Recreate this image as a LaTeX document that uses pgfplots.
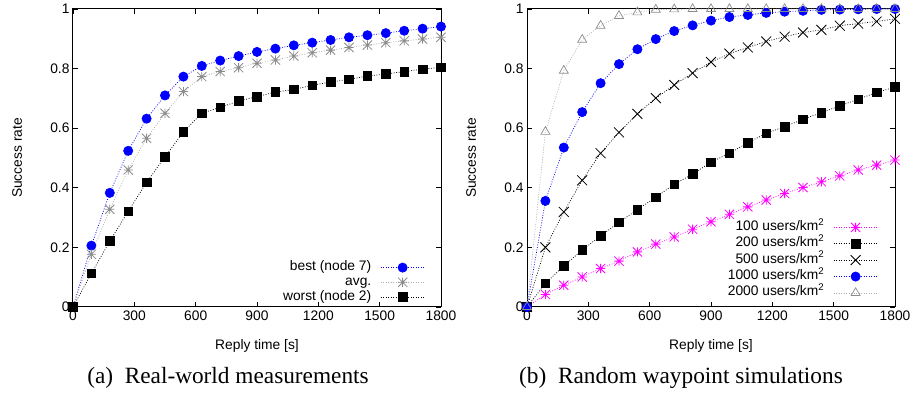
\documentclass[border=0pt]{standalone}
\usepackage{fontspec}
\setmainfont{Liberation Serif}
\newfontfamily\capfont{Liberation Serif}
\newfontfamily\axfont{Liberation Sans}
\newcommand\axsize{\axfont\fontsize{13.8}{15}\selectfont}
\usepackage{pgfplots}
\pgfplotsset{compat=1.18}
\definecolor{gpgray}{RGB}{140,140,140}
\definecolor{gplight}{RGB}{175,175,175}
\definecolor{gpmag}{RGB}{255,0,255}
\pgfdeclareplotmark{gpstar}{%
  \pgfpathmoveto{\pgfqpoint{-\pgfplotmarksize}{0pt}}\pgfpathlineto{\pgfqpoint{\pgfplotmarksize}{0pt}}%
  \pgfpathmoveto{\pgfqpoint{0pt}{-\pgfplotmarksize}}\pgfpathlineto{\pgfqpoint{0pt}{\pgfplotmarksize}}%
  \pgfpathmoveto{\pgfqpoint{-\pgfplotmarksize}{-\pgfplotmarksize}}\pgfpathlineto{\pgfqpoint{\pgfplotmarksize}{\pgfplotmarksize}}%
  \pgfpathmoveto{\pgfqpoint{-\pgfplotmarksize}{\pgfplotmarksize}}\pgfpathlineto{\pgfqpoint{\pgfplotmarksize}{-\pgfplotmarksize}}%
  \pgfusepathqstroke}
\pgfplotsset{
  gpline/.style={line width=0.7pt, dash pattern=on 0.9pt off 1.6pt},
  myaxis/.style={
    scale only axis, width=368pt, height=298pt,
    xmin=0, xmax=1800, ymin=0, ymax=1,
    xtick={0,300,600,900,1200,1500,1800},
    ytick={0,0.2,0.4,0.6,0.8,1},
    axis line style={line width=1pt},
    major tick length=5pt,
    every tick/.style={line width=0.8pt, black},
    /pgf/number format/1000 sep={},
    /pgf/number format/assume math mode=true,
    tick label style={font=\axsize},
    xlabel={Reply time [s]}, ylabel={Success rate},
    xlabel style={font=\axsize, at={(axis description cs:0.5,-0.131)}, anchor=center},
    ylabel style={font=\axsize, at={(axis description cs:-0.152,0.5)}, anchor=center},
    clip=false,
    legend plot pos=right, legend cell align=right,
    legend style={draw=none, fill=none, inner sep=0pt, outer sep=0pt, font=\axsize,
      nodes={inner sep=0pt, text height=9pt, text depth=3pt},
      /tikz/column sep=9pt, anchor=south east},
    legend image code/.code={\draw[mark repeat=2, mark phase=2, #1] plot coordinates {(0pt,0pt) (22pt,0pt) (44pt,0pt)};},
  }
}
\begin{document}
\begin{tikzpicture}
\useasboundingbox (-73pt,-86pt) rectangle (840pt,307pt);
\begin{axis}[myaxis, at={(0pt,0pt)}, anchor=south west,
  legend style={at={(axis description cs:0.9565,0.0134)}, /tikz/row sep=2.7pt}]
\addplot[gpline, blue, mark=*, mark size=4.6pt, mark options={solid, fill=blue}] coordinates {
(0,0) (90,0.206) (180,0.383) (270,0.524) (360,0.632) (450,0.710) (540,0.773) (630,0.809) (720,0.827) (810,0.842) (900,0.856) (990,0.867) (1080,0.878) (1170,0.887) (1260,0.896) (1350,0.905) (1440,0.912) (1530,0.919) (1620,0.927) (1710,0.934) (1800,0.941)};
\addlegendentry{best (node 7)}
\addplot[gpline, gplight, mark=gpstar, mark size=4.6pt, mark options={solid, gpgray, line width=0.8pt}] coordinates {
(0,0) (90,0.177) (180,0.328) (270,0.460) (360,0.566) (450,0.650) (540,0.723) (630,0.773) (720,0.790) (810,0.803) (900,0.818) (990,0.829) (1080,0.842) (1170,0.853) (1260,0.862) (1350,0.871) (1440,0.879) (1530,0.887) (1620,0.893) (1710,0.899) (1800,0.905)};
\addlegendentry{avg.}
\addplot[gpline, black, mark=square*, mark size=4.3pt, mark options={solid, fill=black}] coordinates {
(0,0) (90,0.113) (180,0.221) (270,0.321) (360,0.418) (450,0.504) (540,0.588) (630,0.650) (720,0.670) (810,0.691) (900,0.706) (990,0.721) (1080,0.730) (1170,0.744) (1260,0.755) (1350,0.764) (1440,0.775) (1530,0.782) (1620,0.790) (1710,0.798) (1800,0.804)};
\addlegendentry{worst (node 2)}
\end{axis}
\begin{axis}[myaxis, at={(454pt,0pt)}, anchor=south west,
  legend style={at={(axis description cs:0.9537,0.027)}, /tikz/row sep=4.4pt}]
\addplot[gpline, gpmag, mark=gpstar, mark size=4.6pt, mark options={solid, line width=0.8pt}] coordinates {
(0,0) (90,0.042) (180,0.073) (270,0.101) (360,0.129) (450,0.154) (540,0.185) (630,0.211) (720,0.235) (810,0.261) (900,0.286) (990,0.311) (1080,0.336) (1170,0.359) (1260,0.381) (1350,0.401) (1440,0.420) (1530,0.440) (1620,0.460) (1710,0.476) (1800,0.493)};
\addlegendentry{100 users/km\textsuperscript{2}}
\addplot[gpline, black, mark=square*, mark size=4.3pt, mark options={solid, fill=black}] coordinates {
(0,0) (90,0.079) (180,0.138) (270,0.191) (360,0.239) (450,0.284) (540,0.327) (630,0.368) (720,0.412) (810,0.446) (900,0.486) (990,0.516) (1080,0.551) (1170,0.583) (1260,0.605) (1350,0.630) (1440,0.652) (1530,0.675) (1620,0.697) (1710,0.720) (1800,0.738)};
\addlegendentry{200 users/km\textsuperscript{2}}
\addplot[gpline, black, mark=x, mark size=7pt, mark options={solid, line width=0.8pt}] coordinates {
(0,0) (90,0.200) (180,0.319) (270,0.425) (360,0.516) (450,0.586) (540,0.648) (630,0.701) (720,0.745) (810,0.785) (900,0.822) (990,0.850) (1080,0.871) (1170,0.891) (1260,0.907) (1350,0.921) (1440,0.930) (1530,0.944) (1620,0.951) (1710,0.958) (1800,0.967)};
\addlegendentry{500 users/km\textsuperscript{2}}
\addplot[gpline, blue, mark=*, mark size=4.6pt, mark options={solid, fill=blue}] coordinates {
(0,0) (90,0.356) (180,0.535) (270,0.654) (360,0.751) (450,0.815) (540,0.865) (630,0.899) (720,0.926) (810,0.945) (900,0.961) (990,0.973) (1080,0.980) (1170,0.987) (1260,0.991) (1350,0.994) (1440,0.997) (1530,0.998) (1620,0.999) (1710,1) (1800,1)};
\addlegendentry{1000 users/km\textsuperscript{2}}
\addplot[gpline, gplight, mark=triangle, mark size=5.2pt, mark options={solid, gpgray, line width=0.7pt}] coordinates {
(0,0) (90,0.588) (180,0.793) (270,0.897) (360,0.944) (450,0.977) (540,0.989) (630,0.998) (720,0.999) (810,1) (900,1) (990,1) (1080,1) (1170,1) (1260,1) (1350,1) (1440,1) (1530,1) (1620,1) (1710,1) (1800,1)};
\addlegendentry{2000 users/km\textsuperscript{2}}
\end{axis}
\node[font=\capfont\fontsize{23.3}{26}\selectfont] at (155pt,-71pt) {(a)\enspace Real-world measurements};
\node[font=\capfont\fontsize{23.3}{26}\selectfont] at (608pt,-71pt) {(b)\enspace Random waypoint simulations};
\end{tikzpicture}
\end{document}
